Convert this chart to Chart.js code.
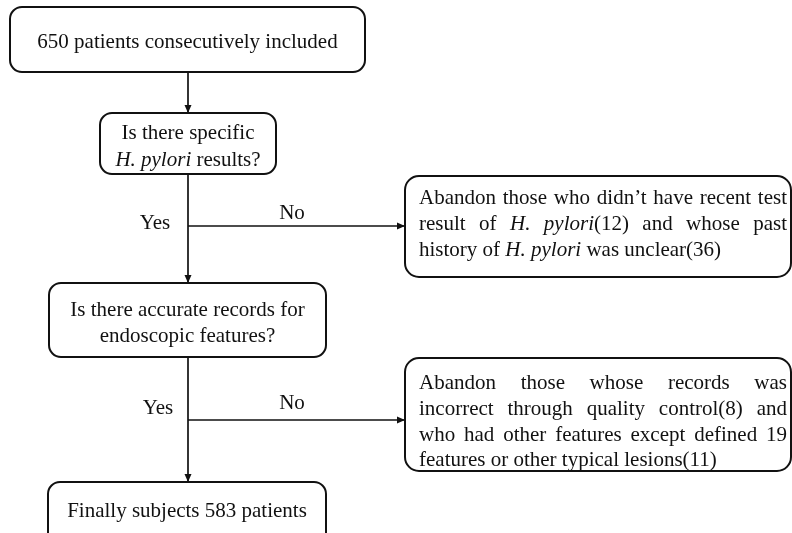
<!doctype html>
<html lang="en">
  <head>
    <meta charset="utf-8">
    <title>Patient selection flowchart</title>
    <style>
    html, body { margin: 0; padding: 0; background: #fff; }
    canvas { display: block; }
    </style>
  </head>
  <body>
    <canvas id="flow" width="792" height="533"></canvas>

    <script src="https://cdn.jsdelivr.net/npm/chart.js@4"></script>
    <script>
    // text of the flowchart (*...* = italic)
    const mainSteps = [
      '650 patients consecutively included',
      'Is there specific\n*H. pylori* results?',
      'Is there accurate records for\nendoscopic features?',
      'Finally subjects 583 patients'
    ];
    const exclusions = [
      'Abandon those who didn\u2019t have recent test\nresult of *H. pylori*(12) and whose past\nhistory of *H. pylori* was unclear(36)',
      'Abandon those whose records was\nincorrect through quality control(8) and\nwho had other features except defined 19\nfeatures or other typical lesions(11)'
    ];
    const branchLabels = ['Yes', 'No'];

    // layout, in axis units (x: 0..792, y: 0..533 top-down)
    const mainBoxes = [
      {x0: 10, y0: 7, x1: 365, y1: 72, base: [48]},
      {x0: 100, y0: 113, x1: 276, y1: 174, base: [139, 166]},
      {x0: 49, y0: 283, x1: 326, y1: 357, base: [316, 342]},
      {x0: 48, y0: 482, x1: 326, y1: 550, base: [517]}
    ];
    const sideBoxes = [
      {x0: 405, y0: 176, x1: 791, y1: 277, tx0: 419, tx1: 787, base: [204, 230, 256], branchY: 226},
      {x0: 405, y0: 358, x1: 791, y1: 471, tx0: 419, tx1: 787, base: [389, 415, 441, 466], branchY: 420}
    ];
    const spineX = 188;
    const branchText = [
      {yes: [155, 223], no: [292, 213]},
      {yes: [158, 408], no: [292, 403]}
    ];

    const FONT = '21px "Liberation Serif", "Times New Roman", serif';
    const INK = '#111';

    function parseLine(line) {
      let italic = false;
      return line.split(' ').map(w => {
        const runs = [];
        let buf = '';
        for (const ch of w) {
          if (ch === '*') {
            if (buf) runs.push({t: buf, i: italic});
            buf = '';
            italic = !italic;
          } else buf += ch;
        }
        if (buf) runs.push({t: buf, i: italic});
        return runs;
      });
    }

    function setFont(ctx, italic) {
      ctx.font = (italic ? 'italic ' : '') + FONT;
    }

    function wordWidth(ctx, runs) {
      let w = 0;
      runs.forEach(r => { setFont(ctx, r.i); w += ctx.measureText(r.t).width; });
      return w;
    }

    // mode: 'center' | 'left' | 'justify'
    function drawRich(ctx, line, x0, x1, y, mode) {
      const words = parseLine(line);
      setFont(ctx, false);
      const space = ctx.measureText(' ').width;
      const widths = words.map(w => wordWidth(ctx, w));
      const natural = widths.reduce((a, b) => a + b, 0) + space * (words.length - 1);
      let gap = space, x = x0;
      if (mode === 'center') x = (x0 + x1) / 2 - natural / 2;
      if (mode === 'justify' && words.length > 1) {
        gap = (x1 - x0 - (natural - space * (words.length - 1))) / (words.length - 1);
      }
      words.forEach(runs => {
        runs.forEach(r => {
          setFont(ctx, r.i);
          ctx.fillText(r.t, x, y);
          x += ctx.measureText(r.t).width;
        });
        x += gap;
      });
    }

    function roundBox(ctx, x0, y0, x1, y1, r) {
      ctx.beginPath();
      ctx.moveTo(x0 + r, y0);
      ctx.arcTo(x1, y0, x1, y1, r);
      ctx.arcTo(x1, y1, x0, y1, r);
      ctx.arcTo(x0, y1, x0, y0, r);
      ctx.arcTo(x0, y0, x1, y0, r);
      ctx.closePath();
      ctx.stroke();
    }

    function arrow(ctx, xa, ya, xb, yb) {
      ctx.beginPath();
      ctx.moveTo(xa, ya);
      ctx.lineTo(xb, yb);
      ctx.stroke();
      const ang = Math.atan2(yb - ya, xb - xa), L = 8, W = 3.5;
      ctx.beginPath();
      ctx.moveTo(xb, yb);
      ctx.lineTo(xb - L * Math.cos(ang) + W * Math.sin(ang), yb - L * Math.sin(ang) - W * Math.cos(ang));
      ctx.lineTo(xb - L * Math.cos(ang) - W * Math.sin(ang), yb - L * Math.sin(ang) + W * Math.cos(ang));
      ctx.closePath();
      ctx.fill();
    }

    const flowPlugin = {
      id: 'flow',
      afterDraw(chart) {
        const ctx = chart.ctx;
        const X = v => chart.scales.x.getPixelForValue(v);
        const Y = v => chart.scales.y.getPixelForValue(v);
        ctx.save();
        ctx.strokeStyle = INK;
        ctx.fillStyle = INK;

        // connectors on the main spine
        ctx.lineWidth = 1.7;
        for (let k = 0; k < mainBoxes.length - 1; k++) {
          arrow(ctx, X(spineX), Y(mainBoxes[k].y1), X(spineX), Y(mainBoxes[k + 1].y0));
        }
        sideBoxes.forEach((b, k) => {
          arrow(ctx, X(spineX), Y(b.branchY), X(b.x0), Y(b.branchY));
          ctx.textAlign = 'center';
          ctx.textBaseline = 'middle';
          setFont(ctx, false);
          ctx.fillText(branchLabels[0], X(branchText[k].yes[0]), Y(branchText[k].yes[1]));
          ctx.fillText(branchLabels[1], X(branchText[k].no[0]), Y(branchText[k].no[1]));
        });
        ctx.textAlign = 'left';
        ctx.textBaseline = 'alphabetic';

        // boxes
        ctx.lineWidth = 2;
        mainBoxes.forEach((b, k) => {
          roundBox(ctx, X(b.x0), Y(b.y0), X(b.x1), Y(b.y1), 12);
          mainSteps[k].split('\n').forEach((line, j) => {
            drawRich(ctx, line, X(b.x0), X(b.x1), Y(b.base[j]), 'center');
          });
        });
        sideBoxes.forEach((b, k) => {
          roundBox(ctx, X(b.x0), Y(b.y0), X(b.x1), Y(b.y1), 14);
          const lines = exclusions[k].split('\n');
          lines.forEach((line, j) => {
            const mode = j < lines.length - 1 ? 'justify' : 'left';
            drawRich(ctx, line, X(b.tx0), X(b.tx1), Y(b.base[j]), mode);
          });
        });
        ctx.restore();
      }
    };

    new Chart(document.getElementById('flow').getContext('2d'), {
      type: 'scatter',
      data: { datasets: [{ data: [] }] },
      options: {
        responsive: false,
        animation: false,
        layout: { padding: 0 },
        plugins: { legend: { display: false }, tooltip: { enabled: false } },
        scales: {
          x: { type: 'linear', min: 0, max: 792, display: false },
          y: { type: 'linear', min: 0, max: 533, reverse: true, display: false }
        }
      },
      plugins: [flowPlugin]
    });
    </script>
  </body>
</html>
